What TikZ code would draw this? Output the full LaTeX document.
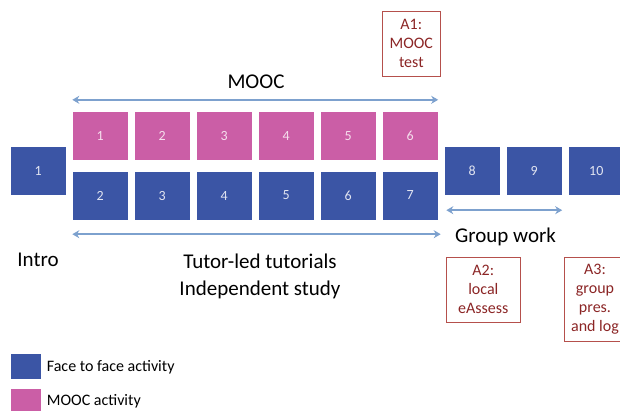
\documentclass[tikz,border=0pt]{standalone}
\usepackage{fontspec}
\setmainfont{Carlito}
\usetikzlibrary{arrows.meta,calc}
\definecolor{ftf}{HTML}{3B55A5}
\definecolor{mooc}{HTML}{CB5EA6}
\definecolor{arr}{HTML}{7DA1CE}
\definecolor{atext}{HTML}{8B2525}
\definecolor{aframe}{HTML}{B5504C}
\tikzset{
  box/.style={minimum width=55.5pt,minimum height=48pt,inner sep=0pt,font=\fontsize{14}{16}\selectfont},
  fbox/.style={box,fill=ftf,text=white!85!ftf},
  mbox/.style={box,fill=mooc,text=white!80!mooc},
  span/.style={draw=arr,line width=1.8pt,{Stealth[length=7pt,width=8pt]}-{Stealth[length=7pt,width=8pt]}},
  big/.style={font=\fontsize{21}{27}\selectfont,inner sep=0pt,align=center},
  abox/.style={draw=aframe,line width=0.9pt,text=atext,align=center,inner sep=0pt,font=\fontsize{16}{19}\selectfont},
  legtext/.style={anchor=west,inner sep=0pt,font=\fontsize{16}{19}\selectfont}
}
\begin{document}
\begin{tikzpicture}[x=1pt,y=-1pt]
\useasboundingbox (0,0) rectangle (620,410);
% intro
\node[fbox] (i1) at (38.25,171) {1};
% MOOC row
\foreach \k in {1,...,6} {
  \node[mbox] (p\k) at ({100.25+62*(\k-1)},136) {\k};
}
% tutorial row
\foreach \k in {2,...,7} {
  \node[fbox] (t\k) at ({100.25+62*(\k-2)},195.5) {\k};
}
% group work
\node[fbox] (g8) at (472.25,171) {8};
\node[fbox] (g9) at (534.25,171) {9};
\node[fbox] (g10) at (596.25,171) {10};
% arrows
\coordinate (ma) at ($(p1.north west)+(0,-12)$);
\coordinate (mb) at ($(p6.north east)+(0,-12)$);
\draw[span] (ma) -- (mb);
\coordinate (ta) at ($(t2.south west)+(0,14.5)$);
\coordinate (tb) at ($(t7.south east)+(2.5,14.5)$);
\draw[span] (ta) -- (tb);
\coordinate (ga) at ($(g8.south west)+(2,15)$);
\coordinate (gb) at ($(g9.south east)+(0,15)$);
\draw[span] (ga) -- (gb);
% labels
\node[big] (lm) at (256,82) {MOOC};
\node[big] (lg) at (505.5,237) {Group work};
\node[big] (li) at (38,260) {Intro};
\node[big] (lt) at (260,276.5) {Tutor-led tutorials\\Independent study};
% assessments
\node[abox,minimum width=58.7pt,minimum height=65.7pt] (a1) at (411.3,43.8) {A1:\\MOOC\\test};
\node[abox,minimum width=74pt,minimum height=65.3pt] (a2) at (483.3,289.7) {A2:\\local\\eAssess};
\node[abox,minimum width=62pt,minimum height=84.7pt] (a3) at (595,299.3) {A3:\\group\\pres.\\and log};
% legend
\node[fill=ftf,minimum width=30pt,minimum height=25pt,inner sep=0pt] (lf) at (25.7,366.5) {};
\node[fill=mooc,minimum width=30pt,minimum height=25pt,inner sep=0pt] (lmo) at (25.7,401.5) {};
\node[legtext] (tf) at (46.7,367) {Face to face activity};
\node[legtext] (tm) at (46.7,401) {MOOC activity};
\end{tikzpicture}
\end{document}
